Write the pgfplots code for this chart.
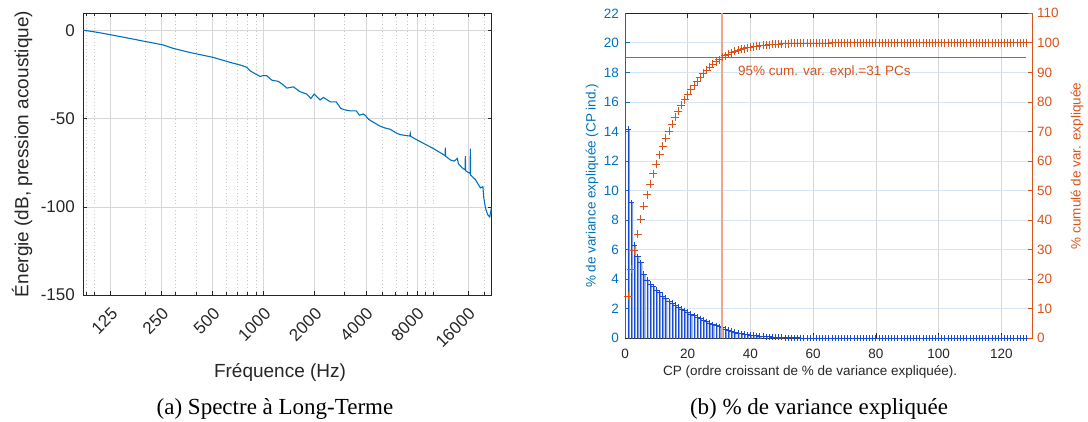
\documentclass[border=0pt]{standalone}
\usepackage{fontspec}
\setmainfont{Liberation Serif}
\newfontfamily\arial{Liberation Sans}
\usepackage{pgfplots}
\pgfplotsset{compat=1.18}
\usepackage{pgfplotstable}

\definecolor{matblue}{RGB}{0,114,189}
\definecolor{matorange}{RGB}{217,83,25}
\definecolor{axisgray}{RGB}{38,38,38}
\definecolor{gridgray}{RGB}{215,215,215}
\definecolor{minorgray}{RGB}{200,200,200}
\definecolor{gridblue}{RGB}{214,229,244}
\definecolor{barlight}{RGB}{128,162,235}
\definecolor{stemblue}{RGB}{25,75,215}
\definecolor{vlinecol}{RGB}{240,166,136}

% long-term spectrum (Hz, dB)
\pgfplotstableread{
f db
86 0.3
108 -1.2
152 -3.9
199 -6.1
255 -8.1
291 -10.0
367 -12.4
504 -15.2
632 -18.0
725 -19.5
794 -20.8
830 -22.8
880 -24.2
951 -26.0
990 -25.5
1042 -25.6
1115 -28.1
1220 -28.8
1290 -30.5
1367 -32.6
1495 -31.9
1638 -34.7
1794 -36.0
1894 -38.5
1981 -36.0
2149 -39.3
2247 -37.9
2462 -40.4
2671 -40.4
2848 -44.2
3019 -45.0
3231 -45.5
3506 -45.5
3668 -48.0
3856 -47.3
3962 -48.0
4144 -50.3
4539 -52.6
4800 -54.0
5081 -55.0
5564 -56.0
6096 -58.3
6376 -59.0
6825 -59.5
7253 -59.8
7304 -58.3
7353 -60.0
8000 -62.0
8956 -64.5
10025 -67.0
11437 -70.3
11705 -71.0
11755 -66.4
11800 -71.2
12580 -73.4
13279 -74.0
13834 -72.5
14025 -75.5
14745 -77.8
15360 -79.0
15420 -71.2
15485 -79.5
16067 -80.5
16461 -81.0
16505 -67.0
16570 -82.0
17665 -84.5
18912 -89.2
19565 -88.5
19780 -94.3
20240 -100.6
20877 -104.4
21458 -105.7
21870 -101.5
22050 -104.0
}\ltas

% PCA: individual and cumulative explained variance (%)
\pgfplotstableread{
k var cum
1 14.15 14.15
2 9.18 23.33
3 6.32 29.65
4 5.53 35.18
5 5.12 40.30
6 4.35 44.65
7 3.95 48.60
8 3.65 52.25
9 3.50 55.75
10 3.27 59.02
11 3.09 62.11
12 2.86 64.97
13 2.70 67.67
14 2.48 70.15
15 2.37 72.52
16 2.25 74.77
17 2.10 76.87
18 1.98 78.85
19 1.88 80.73
20 1.78 82.51
21 1.64 84.15
22 1.52 85.67
23 1.42 87.09
24 1.32 88.41
25 1.22 89.63
26 1.13 90.76
27 1.04 91.80
28 0.92 92.72
29 0.85 93.57
30 0.78 94.35
31 0.71 95.06
32 0.62 95.68
33 0.54 96.22
34 0.47 96.69
35 0.41 97.10
36 0.36 97.46
37 0.32 97.78
38 0.28 98.06
39 0.25 98.31
40 0.22 98.53
41 0.19 98.72
42 0.17 98.89
43 0.15 99.04
44 0.13 99.17
45 0.11 99.28
46 0.10 99.38
47 0.09 99.47
48 0.08 99.55
49 0.07 99.62
50 0.06 99.68
51 0.05 99.73
52 0.045 99.775
53 0.04 99.815
54 0.035 99.85
55 0.03 99.88
56 0.025 99.905
57 0.02 99.925
58 0.018 99.943
59 0.015 99.958
60 0.012 99.970
61 0.002 99.972
62 0.002 99.974
63 0.002 99.976
64 0.002 99.978
65 0.002 99.980
66 0.002 99.982
67 0.002 99.984
68 0.002 99.986
69 0.002 99.988
70 0.002 99.990
71 0.0002 99.99
72 0.0002 99.99
73 0.0002 99.99
74 0.0002 99.99
75 0.0002 99.99
76 0.0002 99.99
77 0.0002 99.99
78 0.0002 99.99
79 0.0002 99.99
80 0.0002 99.99
81 0.0002 99.99
82 0.0002 99.99
83 0.0002 99.99
84 0.0002 99.99
85 0.0002 99.99
86 0.0002 99.99
87 0.0002 99.99
88 0.0002 99.99
89 0.0002 99.99
90 0.0002 99.99
91 0.0002 99.99
92 0.0002 99.99
93 0.0002 99.99
94 0.0002 99.99
95 0.0002 99.99
96 0.0002 100.00
97 0.0002 100.00
98 0.0002 100.00
99 0.0002 100.00
100 0.0002 100.00
101 0.0002 100.00
102 0.0002 100.00
103 0.0002 100.00
104 0.0002 100.00
105 0.0002 100.00
106 0.0002 100.00
107 0.0002 100.00
108 0.0002 100.00
109 0.0002 100.00
110 0.0002 100.00
111 0.0002 100.00
112 0.0002 100.00
113 0.0002 100.00
114 0.0002 100.00
115 0.0002 100.00
116 0.0002 100.00
117 0.0002 100.00
118 0.0002 100.00
119 0.0002 100.00
120 0.0002 100.00
121 0.0002 100.00
122 0.0002 100.00
123 0.0002 100.00
124 0.0002 100.00
125 0.0002 100.00
126 0.0002 100.00
127 0.0002 100.00
128 0.0002 100.00
}\pcatable

\begin{document}
\begin{tikzpicture}
\path[use as bounding box] (0,0) rectangle (1088pt,421pt);

% (a) long-term spectrum
\begin{axis}[
    at={(83pt,126pt)}, anchor=south west,
    width=408.7pt, height=282pt, scale only axis,
    xmode=log, xmin=86, xmax=22050,
    ymin=-150, ymax=10,
    xtick={125,250,500,1000,2000,4000,8000,16000},
    xticklabels={125,250,500,1000,2000,4000,8000,16000},
    minor xtick={90,100,200,300,400,600,700,800,900,3000,5000,6000,7000,9000,10000,20000},
    ytick={-150,-100,-50,0},
    yticklabels={-150,-100,-50,0},
    xmajorgrids, ymajorgrids, xminorgrids,
    major grid style={color=gridgray, line width=0.7pt},
    minor grid style={color=minorgray, line width=0.6pt, dash pattern=on 1pt off 2.5pt},
    axis line style={color=axisgray, line width=0.7pt},
    tick style={color=axisgray, line width=0.7pt},
    major tick length=4pt, minor tick length=3pt,
    tick label style={font=\arial\fontsize{17}{20}\selectfont, text=axisgray},
    xticklabel style={xshift=4pt, yshift=-16pt, rotate=45, anchor=east, inner sep=0pt},
    yticklabel style={anchor=east, inner sep=0pt, xshift=-8pt},
    label style={font=\arial\fontsize{19}{22}\selectfont, text=axisgray},
    xlabel={Fréquence (Hz)},
    ylabel={Énergie (dB, pression acoustique)},
    xlabel style={at={(axis description cs:0.482,-0.273)}, anchor=center},
    ylabel style={at={(axis description cs:-0.149,0.5)}, anchor=center},
]
\addplot[color=matblue, line width=1.1pt] table[x=f, y=db] {\ltas};
\end{axis}

% (b) explained variance, left axis
\begin{axis}[
    at={(625pt,82.7pt)}, anchor=south west,
    width=407.7pt, height=325pt, scale only axis,
    xmin=0, xmax=130, ymin=0, ymax=22,
    xtick={0,20,...,120}, ytick={0,2,...,22},
    ytick pos=left,
    xmajorgrids, ymajorgrids,
    x grid style={color=gridgray, line width=0.7pt},
    y grid style={color=gridblue, line width=0.7pt},
    axis line style={color=axisgray, line width=0.7pt},
    xtick style={color=axisgray, line width=0.7pt},
    ytick style={color=matblue, line width=0.7pt},
    major tick length=5pt,
    /pgf/number format/assume math mode=true,
    tick label style={font=\arial\fontsize{13.5}{16}\selectfont},
    xticklabel style={text=axisgray, anchor=north, inner sep=0pt, yshift=-11pt},
    yticklabel style={text=matblue, anchor=east, inner sep=0pt, xshift=-6pt},
    label style={font=\arial\fontsize{13.5}{16}\selectfont},
    xlabel={CP (ordre croissant de \% de variance expliquée).},
    ylabel={\% de variance expliquée (CP ind.)},
    xlabel style={text=axisgray, at={(axis description cs:0.454,-0.103)}, anchor=center},
    ylabel style={text=matblue, at={(axis description cs:-0.081,0.469)}, anchor=center},
]
\addplot[ybar, bar width=0.6, bar shift=0.25, fill=barlight, draw=none] table[x=k, y=var] {\pcatable};
\addplot[ycomb, color=stemblue, line width=0.8pt, mark=+, mark size=3pt,
    mark options={line width=0.8pt}] table[x=k, y=var] {\pcatable};
\draw[matblue, line width=1pt] (rel axis cs:0,0) -- (rel axis cs:0,1);
\end{axis}

% (b) cumulative, right axis
\begin{axis}[
    at={(625pt,82.7pt)}, anchor=south west,
    width=407.7pt, height=325pt, scale only axis,
    xmin=0, xmax=130, ymin=0, ymax=110,
    axis x line=none, axis y line*=right,
    ytick={0,10,...,110},
    tick align=inside,
    y axis line style={color=matorange, line width=0.7pt},
    ytick style={color=matorange, line width=0.7pt},
    major tick length=4.5pt,
    /pgf/number format/assume math mode=true,
    tick label style={font=\arial\fontsize{13.5}{16}\selectfont},
    yticklabel style={text=matorange, anchor=west, inner sep=0pt, xshift=4.3pt},
    ylabel={\% cumulé de var. expliquée},
    ylabel style={font=\arial\fontsize{13.5}{16}\selectfont, text=matorange,
        at={(axis description cs:1.109,0.53)}, anchor=center, rotate=0},
]
\addplot[color=vlinecol, line width=2pt] coordinates {(31,0) (31,110)};
\addplot[color=matorange, line width=1pt] coordinates {(0,95) (128,95)};
\addplot[only marks, mark=+, mark size=4pt, color=matorange,
    mark options={line width=0.8pt}] table[x=k, y=cum] {\pcatable};
\node[anchor=west, inner sep=0pt, text=matorange, font=\arial\fontsize{13.5}{16}\selectfont]
    at (axis cs:36,90) {95\% cum. var. expl.=31 PCs};
\end{axis}

\node[anchor=base, font=\fontsize{23}{27}\selectfont] at (275pt,7pt) {(a) Spectre à Long-Terme};
\node[anchor=base, font=\fontsize{23}{27}\selectfont] at (819pt,7pt) {(b) \% de variance expliquée};
\end{tikzpicture}
\end{document}
